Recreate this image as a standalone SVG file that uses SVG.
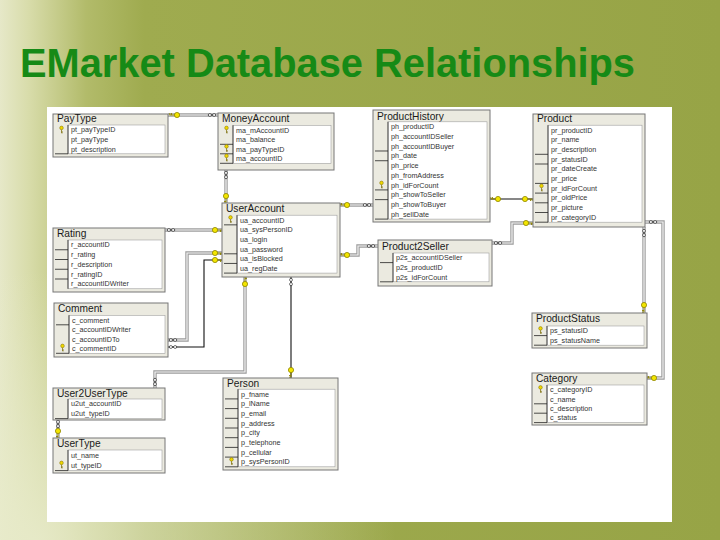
<svg xmlns="http://www.w3.org/2000/svg" xmlns:xlink="http://www.w3.org/1999/xlink" width="720" height="540" viewBox="0 0 720 540">
<style>
.tbl{fill:#ebeae0;stroke:#767676;stroke-width:1}
.fa{fill:#fff;stroke:#a0a0a0;stroke-width:.6}
.kl{stroke:#222;stroke-width:.8}
.th{font-family:"Liberation Sans",Arial,sans-serif;font-size:10.2px;fill:#1a1a1a}
.f{font-family:"Liberation Sans",Arial,sans-serif;font-size:7.2px;fill:#333}
.g1{fill:none;stroke:#9c9c9c;stroke-width:3.4}
.g2{fill:none;stroke:#f4f4f4;stroke-width:1.2}
.bk{fill:none;stroke:#111;stroke-width:1.1}
</style>
<defs>
<linearGradient id="bg" x1="0" y1="0" x2="1" y2="0">
<stop offset="0" stop-color="#e6e8c8"/>
<stop offset="0.04" stop-color="#d8dcaa"/>
<stop offset="0.12" stop-color="#b2bb6a"/>
<stop offset="0.2" stop-color="#9fab4f"/>
<stop offset="1" stop-color="#97a446"/>
</linearGradient>
<radialGradient id="bl" cx="0.05" cy="1" r="0.5">
<stop offset="0" stop-color="#e8ebcb" stop-opacity="0.9"/>
<stop offset="1" stop-color="#e8ebcb" stop-opacity="0"/>
</radialGradient>
<g id="kc"><circle cx="0" cy="0" r="2.6" fill="#f3e600" stroke="#8f8500" stroke-width=".8"/><path d="M2.6 0H7.5M5.5 0v2M7.2 0v2" stroke="#8f8500" stroke-width=".9" fill="none"/></g>
<g id="inf"><path d="M0 0c-1.2-1.8-3.8-1.8-3.8 0s2.6 1.8 3.8 0 3.8-1.8 3.8 0-2.6 1.8-3.8 0z" fill="#fff" stroke="#333" stroke-width=".8"/></g>
<g id="pk"><circle cx="0" cy="-1.6" r="1.8" fill="#f0d800" stroke="#7a6a00" stroke-width=".5"/><path d="M0 0.2v3.4M0 2.4h1.4M0 3.4h1.2" stroke="#7a6a00" stroke-width=".7"/></g>
</defs>

<rect x="0" y="0" width="720" height="540" fill="url(#bg)"/>
<rect x="0" y="0" width="720" height="540" fill="url(#bl)"/>
<text x="20" y="77" font-family="Liberation Sans, Arial, sans-serif" font-weight="bold" font-size="40" fill="#168a16" textLength="615" lengthAdjust="spacingAndGlyphs">EMarket Database Relationships</text>
<rect x="47" y="107" width="625" height="415" fill="#fff"/>

<g id="connectors">
<path class="g1" d="M168 115H218"/><path class="g2" d="M168 115H218"/>
<path class="g1" d="M226 170V203"/><path class="g2" d="M226 170V203"/>
<path class="g1" d="M165 230H222"/><path class="g2" d="M165 230H222"/>
<path class="g1" d="M168 340H187V253H222"/><path class="g2" d="M168 340H187V253H222"/>
<path class="bk" d="M168 347H204V260H222"/>
<path class="bk" d="M291 277V378"/>
<path class="g1" d="M245 277V372H155V388"/><path class="g2" d="M245 277V372H155V388"/>
<path class="g1" d="M58 420V438"/><path class="g2" d="M58 420V438"/>
<path class="g1" d="M340 205H373"/><path class="g2" d="M340 205H373"/>
<path class="g1" d="M340 255H358V246H378"/><path class="g2" d="M340 255H358V246H378"/>
<path class="bk" d="M490 199H533"/>
<path class="g1" d="M533 223H512V243H492"/><path class="g2" d="M533 223H512V243H492"/>
<path class="g1" d="M644 227V313"/><path class="g2" d="M644 227V313"/>
<path class="g1" d="M645 222H663V378H647"/><path class="g2" d="M645 222H663V378H647"/>
<use href="#kc" transform="translate(177,115) rotate(180)"/><use href="#inf" transform="translate(212,115)"/>
<use href="#inf" transform="translate(226,175) rotate(90)"/><use href="#kc" transform="translate(226,196) rotate(90)"/>
<use href="#inf" transform="translate(171,230)"/><use href="#kc" transform="translate(215,230)"/>
<use href="#inf" transform="translate(173,340)"/><use href="#kc" transform="translate(215,253)"/>
<use href="#inf" transform="translate(173,347)"/><use href="#kc" transform="translate(215,260)"/>
<use href="#inf" transform="translate(291,282) rotate(90)"/><use href="#kc" transform="translate(291,370) rotate(90)"/>
<use href="#kc" transform="translate(245,284) rotate(-90)"/><use href="#inf" transform="translate(155,382) rotate(90)"/>
<use href="#inf" transform="translate(58,424) rotate(90)"/><use href="#kc" transform="translate(58,431) rotate(90)"/>
<use href="#kc" transform="translate(347,205) rotate(180)"/><use href="#inf" transform="translate(367,205)"/>
<use href="#kc" transform="translate(347,255) rotate(180)"/><use href="#inf" transform="translate(371,246)"/>
<use href="#kc" transform="translate(498,199) rotate(180)"/><use href="#kc" transform="translate(525,199)"/>
<use href="#kc" transform="translate(526,223)"/><use href="#inf" transform="translate(498,243)"/>
<use href="#inf" transform="translate(644,233) rotate(90)"/><use href="#kc" transform="translate(644,305) rotate(90)"/>
<use href="#inf" transform="translate(653,222)"/><use href="#kc" transform="translate(654,378) rotate(180)"/>
</g>

<g id="PayType">
<rect class="tbl" x="53" y="114" width="115" height="43"/>
<text class="th" x="57" y="122.3">PayType</text>
<rect class="fa" x="68" y="125" width="97" height="28.8"/>
<path class="kl" d="M68 125V153.8M55 153.8H68"/>
<use href="#pk" transform="translate(61.5,129.5)"/>
<text class="f" x="71" y="132.3">pt_payTypeID</text>
<text class="f" x="71" y="141.9">pt_payType</text>
<text class="f" x="71" y="151.5">pt_description</text>
</g>

<g id="MoneyAccount">
<rect class="tbl" x="218" y="113" width="116" height="57"/>
<text class="th" x="222" y="122.3">MoneyAccount</text>
<rect class="fa" x="233" y="125.3" width="98" height="38"/>
<path class="kl" d="M233 125.3V163.3M220 144.3H233M220 153.8H233M220 163.3H233"/>
<use href="#pk" transform="translate(226.5,129.5)"/>
<use href="#pk" transform="translate(226.5,148)"/>
<use href="#pk" transform="translate(226.5,157.5)"/>
<text class="f" x="236" y="132.5">ma_mAccountID</text>
<text class="f" x="236" y="142">ma_balance</text>
<text class="f" x="236" y="151.5">ma_payTypeID</text>
<text class="f" x="236" y="161">ma_accountID</text>
</g>

<g id="ProductHistory">
<rect class="tbl" x="373" y="110" width="117" height="112"/>
<text class="th" x="377" y="119.6">ProductHistory</text>
<rect class="fa" x="388" y="121.8" width="99" height="97.3"/>
<path class="kl" d="M388 121.8V219.1M375 150.99H388M375 160.72H388M375 189.91H388M375 199.64H388M375 219.1H388"/>
<use href="#pk" transform="translate(381.5,184.5)"/>
<text class="f" x="391" y="129.2">ph_productID</text>
<text class="f" x="391" y="138.9">ph_accountIDSeller</text>
<text class="f" x="391" y="148.7">ph_accountIDBuyer</text>
<text class="f" x="391" y="158.4">ph_date</text>
<text class="f" x="391" y="168.1">ph_price</text>
<text class="f" x="391" y="177.9">ph_fromAddress</text>
<text class="f" x="391" y="187.6">ph_idForCount</text>
<text class="f" x="391" y="197.3">ph_showToSeller</text>
<text class="f" x="391" y="207.1">ph_showToBuyer</text>
<text class="f" x="391" y="216.8">ph_sellDate</text>
</g>

<g id="Product">
<rect class="tbl" x="533" y="114" width="112" height="113"/>
<text class="th" x="537" y="122.4">Product</text>
<rect class="fa" x="548" y="125.2" width="94" height="97"/>
<path class="kl" d="M548 125.2V222.2M535 154.3H548M535 164H548M535 183.4H548M535 193.1H548M535 202.8H548M535 212.5H548M535 222.2H548"/>
<use href="#pk" transform="translate(541.5,187.5)"/>
<text class="f" x="551" y="132.55">pr_productID</text>
<text class="f" x="551" y="142.25">pr_name</text>
<text class="f" x="551" y="151.95">pr_description</text>
<text class="f" x="551" y="161.65">pr_statusID</text>
<text class="f" x="551" y="171.35">pr_dateCreate</text>
<text class="f" x="551" y="181.05">pr_price</text>
<text class="f" x="551" y="190.75">pr_idForCount</text>
<text class="f" x="551" y="200.45">pr_oldPrice</text>
<text class="f" x="551" y="210.15">pr_picture</text>
<text class="f" x="551" y="219.85">pr_categoryID</text>
</g>

<g id="UserAccount">
<rect class="tbl" x="222" y="203" width="118" height="74"/>
<text class="th" x="226" y="212.4">UserAccount</text>
<rect class="fa" x="237" y="215.2" width="100" height="57.9"/>
<path class="kl" d="M237 215.2V273.1M224 224.85H237M224 253.8H237M224 263.45H237M224 273.1H237"/>
<use href="#pk" transform="translate(230.5,219)"/>
<text class="f" x="240" y="222.5">ua_accountID</text>
<text class="f" x="240" y="232.2">ua_sysPersonID</text>
<text class="f" x="240" y="241.8">ua_login</text>
<text class="f" x="240" y="251.5">ua_password</text>
<text class="f" x="240" y="261.1">ua_isBlocked</text>
<text class="f" x="240" y="270.8">ua_regDate</text>
</g>

<g id="Rating">
<rect class="tbl" x="53" y="228" width="112" height="64"/>
<text class="th" x="57" y="237.4">Rating</text>
<rect class="fa" x="68" y="240" width="94" height="48.75"/>
<path class="kl" d="M68 240V288.75M55 249.75H68M55 259.5H68M55 269.25H68M55 279H68"/>
<text class="f" x="71" y="247.4">r_accountID</text>
<text class="f" x="71" y="257.1">r_rating</text>
<text class="f" x="71" y="266.9">r_description</text>
<text class="f" x="71" y="276.6">r_ratingID</text>
<text class="f" x="71" y="286.4">r_accountIDWriter</text>
</g>

<g id="Product2Seller">
<rect class="tbl" x="378" y="240" width="114" height="46"/>
<text class="th" x="382" y="250.4">Product2Seller</text>
<rect class="fa" x="393" y="253" width="96" height="28.8"/>
<path class="kl" d="M393 253V281.8M380 262.6H393M380 281.8H393"/>
<text class="f" x="396" y="260.3">p2s_accountIDSeller</text>
<text class="f" x="396" y="269.9">p2s_productID</text>
<text class="f" x="396" y="279.5">p2s_idForCount</text>
</g>

<g id="ProductStatus">
<rect class="tbl" x="532" y="313" width="115" height="35"/>
<text class="th" x="536" y="322.4">ProductStatus</text>
<rect class="fa" x="547" y="326" width="97" height="19.2"/>
<path class="kl" d="M547 326V345.2M534 335.6H547M534 345.2H547"/>
<use href="#pk" transform="translate(540.5,330)"/>
<text class="f" x="550" y="333.3">ps_statusID</text>
<text class="f" x="550" y="342.9">ps_statusName</text>
</g>

<g id="Comment">
<rect class="tbl" x="54" y="303" width="114" height="54"/>
<text class="th" x="58" y="312.4">Comment</text>
<rect class="fa" x="69" y="315.3" width="96" height="38"/>
<path class="kl" d="M69 315.3V353.3M56 324.8H69M56 353.3H69"/>
<use href="#pk" transform="translate(62.5,347.5)"/>
<text class="f" x="72" y="322.55">c_comment</text>
<text class="f" x="72" y="332.05">c_accountIDWriter</text>
<text class="f" x="72" y="341.55">c_accountIDTo</text>
<text class="f" x="72" y="351.05">c_commentID</text>
</g>

<g id="User2UserType">
<rect class="tbl" x="53" y="388" width="112" height="32"/>
<text class="th" x="57" y="396.6">User2UserType</text>
<rect class="fa" x="68" y="399" width="94" height="19.6"/>
<path class="kl" d="M68 399V418.6M55 418.6H68"/>
<text class="f" x="71" y="406.4">u2ut_accountID</text>
<text class="f" x="71" y="416.2">u2ut_typeID</text>
</g>

<g id="UserType">
<rect class="tbl" x="53" y="438" width="112" height="35"/>
<text class="th" x="57" y="447.4">UserType</text>
<rect class="fa" x="68" y="450" width="94" height="20.6"/>
<path class="kl" d="M68 450V470.6M55 470.6H68"/>
<use href="#pk" transform="translate(61.5,464.5)"/>
<text class="f" x="71" y="457.65">ut_name</text>
<text class="f" x="71" y="467.95">ut_typeID</text>
</g>

<g id="Person">
<rect class="tbl" x="223" y="378" width="115" height="92"/>
<text class="th" x="227" y="386.8">Person</text>
<rect class="fa" x="238" y="389.2" width="97" height="77.6"/>
<path class="kl" d="M238 389.2V466.8M225 398.9H238M225 408.6H238M225 418.3H238M225 428H238M225 437.7H238M225 447.4H238M225 457.1H238M225 466.8H238"/>
<use href="#pk" transform="translate(231.5,461)"/>
<text class="f" x="241" y="396.55">p_fname</text>
<text class="f" x="241" y="406.25">p_lName</text>
<text class="f" x="241" y="415.95">p_email</text>
<text class="f" x="241" y="425.65">p_address</text>
<text class="f" x="241" y="435.35">p_city</text>
<text class="f" x="241" y="445.05">p_telephone</text>
<text class="f" x="241" y="454.75">p_cellular</text>
<text class="f" x="241" y="464.45">p_sysPersonID</text>
</g>

<g id="Category">
<rect class="tbl" x="532" y="373" width="115" height="52"/>
<text class="th" x="536" y="382.4">Category</text>
<rect class="fa" x="547" y="385" width="97" height="37.6"/>
<path class="kl" d="M547 385V422.6M534 403.8H547M534 413.2H547M534 422.6H547"/>
<use href="#pk" transform="translate(540.5,389)"/>
<text class="f" x="550" y="392.2">c_categoryID</text>
<text class="f" x="550" y="401.6">c_name</text>
<text class="f" x="550" y="411">c_description</text>
<text class="f" x="550" y="420.4">c_status</text>
</g>
</svg>
